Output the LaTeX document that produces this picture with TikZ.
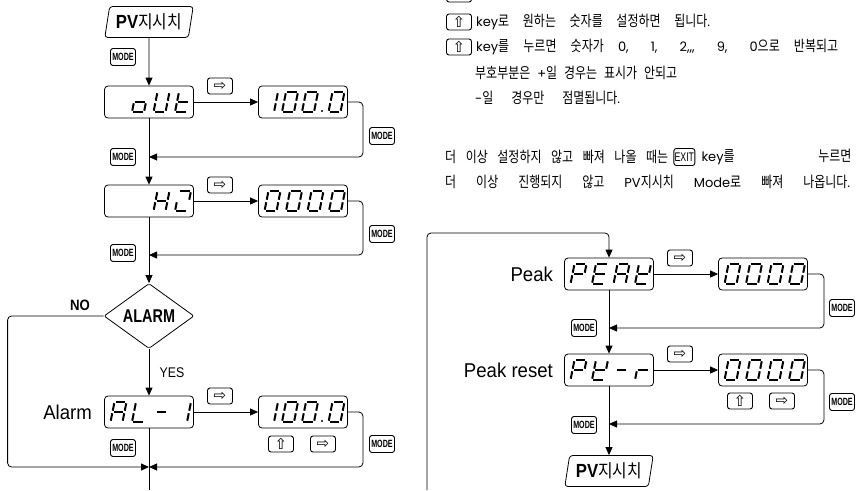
\documentclass[tikz,border=0pt]{standalone}
\usepackage{fontspec}
\setmainfont{Liberation Sans}
\newfontfamily\krfont[FakeStretch=0.8]{Noto Sans CJK KR}
\newfontfamily\krnarrow[FakeStretch=0.88]{Noto Sans CJK KR}
\newfontfamily\latfont{Poppins}
\newfontfamily\labelfont[FakeStretch=0.93]{Liberation Sans}
\newfontfamily\narrowfont[FakeStretch=0.88]{Liberation Sans}
\newfontfamily\condfont[FakeStretch=0.78]{Liberation Sans}
\newfontfamily\keyfont[FakeStretch=0.68]{Liberation Sans}
\newfontfamily\exitfont[FakeStretch=0.7]{Liberation Sans}
\newfontfamily\symfont{DejaVu Sans}
\usetikzlibrary{arrows.meta,positioning,shapes.geometric}

% latin words inside the korean notes
\newcommand{\lw}[1]{{\latfont\fontsize{13}{15}\selectfont #1}}

% one segment of a 7-segment character, cell origin = bottom left
\newcommand{\segpiece}[1]{%
  \if#1a\draw[segline] (4,-20) -- (16,-20);\fi
  \if#1b\draw[segline] (16,-20) -- (14,-10);\fi
  \if#1c\draw[segline] (14,-10) -- (12,0);\fi
  \if#1d\draw[segline] (0,0) -- (12,0);\fi
  \if#1e\draw[segline] (2,-10) -- (0,0);\fi
  \if#1f\draw[segline] (4,-20) -- (2,-10);\fi
  \if#1g\draw[segline] (2,-10) -- (14,-10);\fi}
\newcommand{\lcdchar}[3]{%
  \begin{scope}[shift={(#1,#2)}]
    \foreach \s in {#3}{\segpiece{\s}}
  \end{scope}}

\tikzset{
  flow/.style={line width=0.8pt},
  lcd/.style={draw,line width=0.8pt,rounded corners=3.5pt,minimum width=89pt,minimum height=32pt,inner sep=0pt},
  keybox/.style={draw,line width=0.9pt,rounded corners=2.5pt,minimum width=25pt,minimum height=16pt,inner sep=0pt},
  modekey/.style={keybox,minimum height=17pt,font=\keyfont\bfseries\fontsize{10.5}{11}\selectfont},
  arrkey/.style={keybox,font=\symfont\fontsize{15}{15}\selectfont},
  exitkey/.style={keybox,minimum width=21pt,minimum height=17pt,font=\exitfont\fontsize{12.5}{13}\selectfont},
  pvbox/.style={draw,line width=0.8pt,trapezium,trapezium left angle=76,trapezium right angle=104,
    trapezium stretches=true,minimum width=89pt,minimum height=31pt,rounded corners=3pt,inner sep=0pt,
    font=\narrowfont\fontsize{19}{20}\selectfont},
  decision/.style={draw,line width=0.8pt,diamond,minimum width=90pt,minimum height=65pt,inner sep=0pt,
    rounded corners=2pt,font=\condfont\bfseries\fontsize{18.5}{19}\selectfont},
  segline/.style={line width=2pt,shorten <=1.3pt,shorten >=1.3pt},
  lbl/.style={font=\labelfont\fontsize{20}{21}\selectfont,inner sep=0pt},
  txt/.style={font=\krfont\fontsize{15}{17}\selectfont,inner sep=0pt,anchor=west},
}

\begin{document}
\begin{tikzpicture}[x=1pt,y=-1pt,>={Triangle[length=8pt,width=7pt]}]
  \useasboundingbox (0,0) rectangle (856,490);

  % left flow
  \node[pvbox] (pvA) at (149,22) {\textbf{PV}{\krnarrow\fontsize{18}{19}\selectfont 지시치}};
  \node[lcd] (outA) at (149,102) {};
  \node[lcd] (valA) at (303,102) {};
  \node[lcd] (hzA) at (149,201) {};
  \node[lcd] (valB) at (303,201) {};
  \node[decision] (alarm) at (149,316) {ALARM};
  \node[lcd] (alA) at (149,412) {};
  \node[lcd] (valC) at (303,412) {};
  \node[lbl,left=12pt of alA] (alarmLbl) {Alarm};
  \node[font=\narrowfont\bfseries\fontsize{15}{16}\selectfont] (noLbl) at (80,305) {NO};
  \coordinate (jA) at (149,157);
  \coordinate (jB) at (149,255);
  \coordinate (jC) at (149,467);
  \coordinate (outLeft) at (149,490);

  \draw[flow,->] (pvA) -- (outA);
  \draw[flow,->] (outA) -- (valA);
  \draw[flow,->,rounded corners=4pt] (valA.east) -- ++(15,0) |- (jA);
  \draw[flow,->] (outA) -- (hzA);
  \draw[flow,->] (hzA) -- (valB);
  \draw[flow,->,rounded corners=4pt] (valB.east) -- ++(15,0) |- (jB);
  \draw[flow,->] (hzA) -- (alarm);
  \draw[flow,->] (alarm) -- node[midway,right=7pt,font=\narrowfont\fontsize{14}{15}\selectfont] (yesLbl) {YES} (alA);
  \draw[flow,->] (alA) -- (valC);
  \draw[flow,->,rounded corners=4pt] (valC.east) -- ++(15,0) |- (jC);
  \draw[flow,->,rounded corners=4pt] (alarm.west) -- ++(-96,0) |- (jC);
  \draw[flow] (alA) -- (outLeft);

  \node[modekey] (mA) at (123,57) {MODE};
  \node[arrkey] (rA) at (220,86) {⇨};
  \node[modekey] (mB) at (382,136) {MODE};
  \node[modekey] (mC) at (123,157) {MODE};
  \node[arrkey] (rB) at (220,185) {⇨};
  \node[modekey] (mD) at (382,234) {MODE};
  \node[modekey] (mE) at (123,253) {MODE};
  \node[arrkey] (rC) at (220,396) {⇨};
  \node[arrkey] (uC) at (281,444) {⇧};
  \node[arrkey] (rD) at (323,444) {⇨};
  \node[modekey] (mF) at (382,444) {MODE};
  \node[modekey] (mG) at (123,448) {MODE};

  % displays, left flow
  \lcdchar{132}{112}{c,d,e,g}
  \lcdchar{153.5}{112}{b,c,d,e,f}
  \lcdchar{175}{112}{d,e,f,g}
  \lcdchar{262}{112}{b,c}
  \lcdchar{282}{112}{a,b,c,d,e,f}
  \lcdchar{302}{112}{a,b,c,d,e,f}
  \fill (322,111) circle (1.2pt);
  \lcdchar{328.5}{112}{a,b,c,d,e,f}
  \lcdchar{153.5}{211}{b,c,e,f,g}
  \lcdchar{175}{211}{a,b,d,e}
  \foreach \k in {0,...,3} {\lcdchar{264.5+21.5*\k}{211}{a,b,c,d,e,f}}
  \lcdchar{110.5}{422}{a,b,c,e,f,g}
  \lcdchar{132}{422}{d,e,f}
  \lcdchar{153.5}{422}{g}
  \lcdchar{175}{422}{b,c}
  \lcdchar{262}{422}{b,c}
  \lcdchar{282}{422}{a,b,c,d,e,f}
  \lcdchar{302}{422}{a,b,c,d,e,f}
  \fill (322,421) circle (1.2pt);
  \lcdchar{328.5}{422}{a,b,c,d,e,f}

  % right flow
  \coordinate (inB) at (427,490);
  \node[lcd] (peak) at (609,274) {};
  \node[lcd] (valD) at (763,274) {};
  \node[lcd] (pkr) at (609,370) {};
  \node[lcd] (valE) at (763,370) {};
  \node[pvbox] (pvB) at (609,471) {\textbf{PV}{\krnarrow\fontsize{18}{19}\selectfont 지시치}};
  \node[lbl,left=11pt of peak] (peakLbl) {Peak};
  \node[lbl,left=11pt of pkr] (resetLbl) {Peak reset};
  \coordinate (jD) at (609,328);
  \coordinate (jE) at (609,424);

  \draw[flow,->,rounded corners=4pt] (inB) -- ++(0,-257) -| (peak);
  \draw[flow,->] (peak) -- (valD);
  \draw[flow,->,rounded corners=4pt] (valD.east) -- ++(16,0) |- (jD);
  \draw[flow,->] (peak) -- (pkr);
  \draw[flow,->] (pkr) -- (valE);
  \draw[flow,->,rounded corners=4pt] (valE.east) -- ++(16,0) |- (jE);
  \draw[flow,->] (pkr) -- (pvB);

  \node[arrkey] (rE) at (680,258) {⇨};
  \node[modekey] (mH) at (842,308) {MODE};
  \node[modekey] (mI) at (584,328) {MODE};
  \node[arrkey] (rF) at (680,354) {⇨};
  \node[arrkey] (uF) at (740,401) {⇧};
  \node[arrkey] (rG) at (782,401) {⇨};
  \node[modekey] (mJ) at (842,402) {MODE};
  \node[modekey] (mK) at (584,425) {MODE};

  % displays, right flow
  \lcdchar{570.5}{284}{a,b,e,f,g}
  \lcdchar{592}{284}{a,d,e,f,g}
  \lcdchar{613.5}{284}{a,b,c,e,f,g}
  \lcdchar{635}{284}{b,d,e,f,g}
  \foreach \k in {0,...,3} {\lcdchar{724.5+21.5*\k}{284}{a,b,c,d,e,f}}
  \lcdchar{570.5}{380}{a,b,e,f,g}
  \lcdchar{592}{380}{b,d,e,f,g}
  \lcdchar{613.5}{380}{g}
  \lcdchar{635}{380}{e,g}
  \foreach \k in {0,...,3} {\lcdchar{724.5+21.5*\k}{380}{a,b,c,d,e,f}}

  % notes
  \node[keybox] (kTop) at (459,-6) {};
  \node[arrkey] (uT1) at (459,22) {⇧};
  \node[txt,right=4pt of uT1] (tOne) {\makebox[234pt][s]{\lw{key}로 원하는 숫자를 설정하면 됩니다\lw{.}}};
  \node[arrkey] (uT2) at (459,47) {⇧};
  \node[txt,right=4pt of uT2] (tTwo) {\makebox[362pt][s]{\lw{key}를 누르면 숫자가 \lw{0, 1, 2,,, 9, 0}으로 반복되고}};
  \node[txt] (tThree) at (475,73) {\makebox[202pt][s]{부호부분은 \lw{+}일 경우는 표시가 안되고}};
  \node[txt] (tFour) at (475,98) {\makebox[145pt][s]{\lw{-}일 경우만 점멸됩니다\lw{.}}};
  \node[txt] (tFive) at (445,157) {\makebox[223pt][s]{더 이상 설정하지 않고 빠져 나올 때는}};
  \node[exitkey,right=5pt of tFive] (exitK) {EXIT};
  \node[txt,right=6pt of exitK] (tFiveB) {\makebox[150pt][s]{\lw{key}를 누르면}};
  \node[txt] (tSix) at (445,182) {\makebox[405pt][s]{더 이상 진행되지 않고 \lw{PV}지시치 \lw{Mode}로 빠져 나옵니다\lw{.}}};
\end{tikzpicture}
\end{document}
